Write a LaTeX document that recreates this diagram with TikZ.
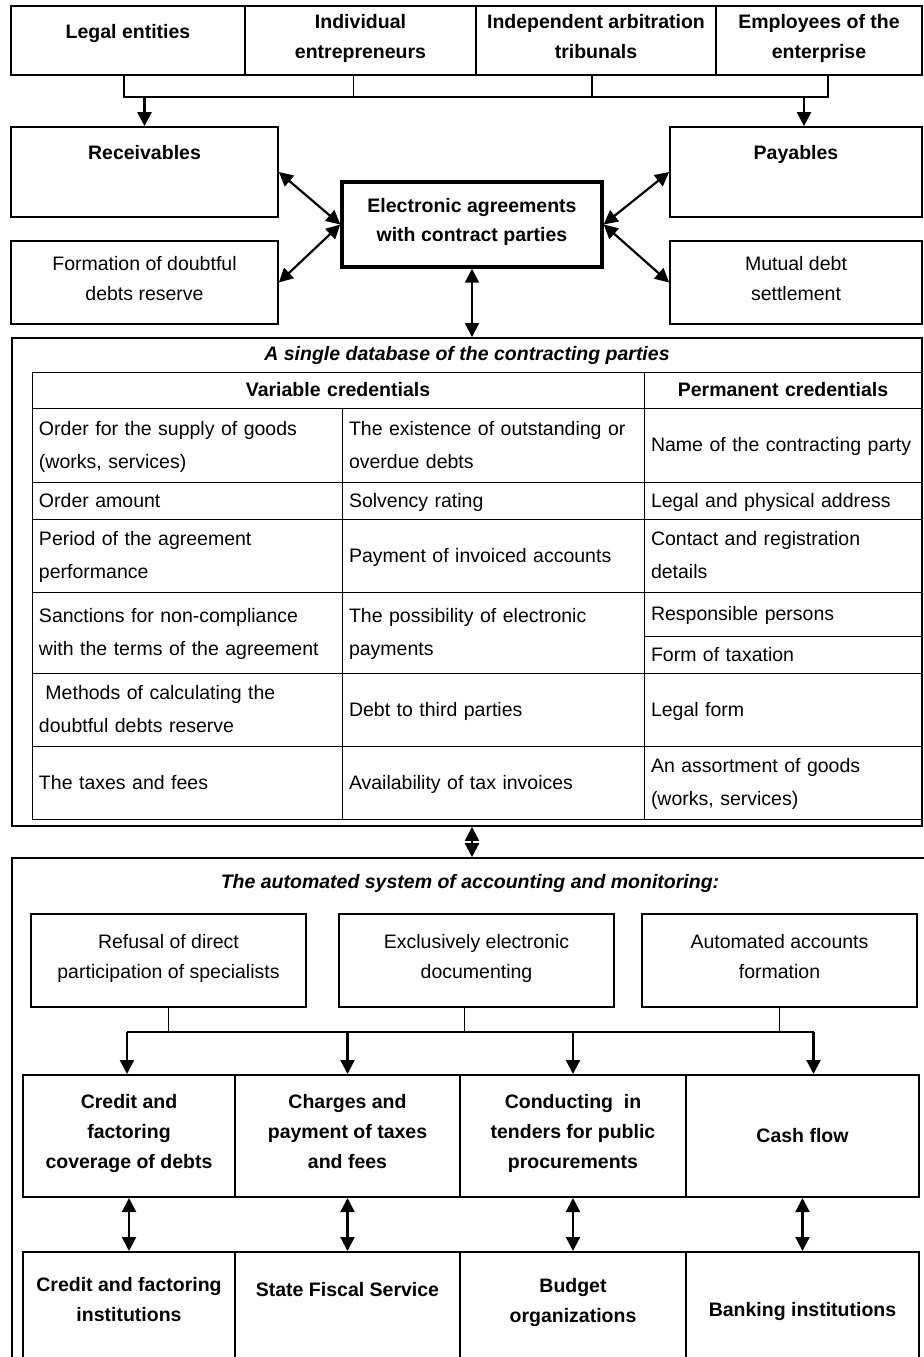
\documentclass[tikz,border=0pt]{standalone}
\usepackage{fontspec}
\setmainfont{Liberation Sans}
\usetikzlibrary{arrows.meta}

\begin{document}
\begin{tikzpicture}[
  x=0.5pt, y=-0.5pt,
  every node/.style={font=\fontsize{9.75}{15}\selectfont},
  even/.style={execute at begin node=\strut, execute at end node=\strut},
  bx/.style={draw, line width=0.85pt, align=center, inner sep=1pt, even},
  topbox/.style={bx, line width=1pt, minimum height=34.5pt, font=\fontsize{9.75}{15}\selectfont\bfseries},
  sidebox/.style={bx, minimum width=133.5pt},
  hub/.style={bx, line width=1.7pt, minimum width=130pt, minimum height=42.5pt, font=\fontsize{9.75}{14.5}\selectfont\bfseries},
  outer/.style={draw, line width=0.9pt},
  ttl/.style={font=\fontsize{9.75}{15}\selectfont\bfseries\itshape},
  bold/.style={font=\fontsize{9.75}{15}\selectfont\bfseries, align=center, even},
  cell/.style={draw, line width=0.5pt, align=left, inner xsep=3.5pt, inner ysep=0pt, even, font=\fontsize{9.75}{16.5}\selectfont},
  hd/.style={cell, align=center, minimum height=18pt, font=\fontsize{9.75}{16.5}\selectfont\bfseries},
  c1/.style={cell, text width=148pt},
  c2/.style={cell, text width=144pt},
  c3/.style={cell, text width=132pt},
  subbox/.style={bx, line width=0.8pt, minimum width=137.5pt, minimum height=46.5pt},
  flowbox/.style={bx, line width=1pt, minimum height=61pt, font=\fontsize{9.75}{15}\selectfont\bfseries},
  instbox/.style={draw, line width=1pt, minimum height=64pt},
  ln/.style={draw, line width=0.8pt},
  arr/.style={draw, line width=1.1pt, -{Triangle[length=7pt, width=7pt]}},
  darr/.style={arr, {Triangle[length=7pt, width=7pt]}-{Triangle[length=7pt, width=7pt]}},
]
\useasboundingbox (0,0) rectangle (924,1357);
\fill[white] (0,0) rectangle (924,1357);
\clip (0,0) rectangle (924,1357);

% contract parties
\node[topbox, minimum width=117pt] (le) at (128,40.5) {};
\node[bold] (let) at (128,32) {Legal entities};
\node[topbox, minimum width=115.5pt] (ie) at (360.5,40.5) {Individual\\entrepreneurs};
\node[topbox, minimum width=120pt] (ia) at (596,40.5) {Independent arbitration\\tribunals};
\node[topbox, minimum width=103pt] (ee) at (819,40.5) {Employees of the\\enterprise};

\coordinate (bar) at (0,97);
\draw[ln, line width=1pt] ([xshift=-2pt]le.south) |- ([xshift=4.5pt]ee.south |- bar) -- ([xshift=4.5pt]ee.south);
\draw[ln] ([xshift=-3.5pt]ie.south) -- ([xshift=-3.5pt]ie.south |- bar);
\draw[ln] ([xshift=-2pt]ia.south) -- ([xshift=-2pt]ia.south |- bar);

% debts around the agreements
\node[sidebox, minimum height=45pt] (rec) at (144.5,172) {};
\node[bold] (rect) at (144.5,153) {Receivables};
\node[sidebox, minimum width=126pt, minimum height=45pt] (pay) at (796,172) {};
\node[bold] (payt) at (796,153) {Payables};
\node[sidebox, minimum height=41.5pt] (form) at (144.5,282.5) {Formation of doubtful\\debts reserve};
\node[sidebox, minimum width=126pt, minimum height=41.5pt] (mut) at (796,282.5) {Mutual debt\\settlement};
\node[hub] (ea) at (472,224.5) {Electronic agreements\\with contract parties};

\draw[arr] (rec.north |- bar) -- (rec.north);
\draw[arr] ([xshift=4pt]pay.north |- bar) -- ([xshift=4pt]pay.north);
\draw[darr] (rec.east) -- (ea.west);
\draw[darr] (form.east) -- (ea.west);
\draw[darr] (pay.west) -- (ea.east);
\draw[darr] (mut.west) -- (ea.east);

% single database
\node[outer, minimum width=455pt, minimum height=244pt] (db) at (467,582) {};
\node[ttl] (dbt) at (467,355) {A single database of the contracting parties};

\node[hd, text width=299pt] (var) at (338,390) {Variable credentials};
\node[hd, text width=132pt] (perm) at (783,390) {Permanent credentials};

\node[c1, minimum height=37pt] (supply) at (187,445) {Order for the supply of goods\\(works, services)};
\node[c2, minimum height=37pt] (arrears) at (493,445) {The existence of outstanding or\\overdue debts};
\node[c3, minimum height=37pt] (pname) at (783,445) {Name of the contracting party};

\node[c1, minimum height=18.5pt] (amount) at (187,500.5) {Order amount};
\node[c2, minimum height=18.5pt] (rating) at (493,500.5) {Solvency rating};
\node[c3, minimum height=18.5pt] (address) at (783,500.5) {Legal and physical address};

\node[c1, minimum height=36.5pt] (period) at (187,555.5) {Period of the agreement\\performance};
\node[c2, minimum height=36.5pt] (payment) at (493,555.5) {Payment of invoiced accounts};
\node[c3, minimum height=36.5pt] (contact) at (783,555.5) {Contact and registration\\details};

\node[c1, minimum height=40.5pt] (sanctions) at (187,632.5) {Sanctions for non-compliance\\with the terms of the agreement};
\node[c2, minimum height=40.5pt] (epay) at (493,632.5) {The possibility of electronic\\payments};
\node[c3, minimum height=22pt] (persons) at (783,614) {Responsible persons};
\node[c3, minimum height=18.5pt] (taxform) at (783,654.5) {Form of taxation};

\node[c1, minimum height=36.5pt] (methods) at (187,709.5) {\ Methods of calculating the\\doubtful debts reserve};
\node[c2, minimum height=36.5pt] (thirddebt) at (493,709.5) {Debt to third parties};
\node[c3, minimum height=36.5pt] (legform) at (783,709.5) {Legal form};

\node[c1, minimum height=36.5pt] (taxes) at (187,782.5) {The taxes and fees};
\node[c2, minimum height=36.5pt] (invoices) at (493,782.5) {Availability of tax invoices};
\node[c3, minimum height=36.5pt] (assort) at (783,782.5) {An assortment of goods\\(works, services)};

\draw[darr] (ea.south) -- (ea.south |- db.north);

% automated system
\node[outer, line width=0.8pt, minimum width=460pt, minimum height=281pt] (asys) at (472,1139) {};
\node[ttl] (ast) at (470,883) {The automated system of accounting and monitoring:};
\draw[darr] (db.south -| ea.south) -- (ea.south |- asys.north);

\node[subbox] (sb1) at (168.5,960.5) {Refusal of direct\\participation of specialists};
\node[subbox] (sb2) at (476.5,960.5) {Exclusively electronic\\documenting};
\node[subbox] (sb3) at (779.5,960.5) {Automated accounts\\formation};

\node[flowbox, minimum width=106pt] (cr) at (129,1136) {Credit and\\factoring\\coverage of debts};
\node[flowbox, minimum width=112.5pt] (ch) at (347.5,1136) {Charges and\\payment of taxes\\and fees};
\node[flowbox, minimum width=113pt] (ct) at (573,1136) {Conducting~ in\\tenders for public\\procurements};
\node[flowbox, minimum width=116.5pt] (cf) at (802.5,1136) {Cash flow};

\coordinate (tie) at (0,1032);
\draw[ln] (sb1.south) -- (sb1.south |- tie);
\draw[ln] ([xshift=-6pt]sb2.south) -- ([xshift=-6pt]sb2.south |- tie);
\draw[ln] (sb3.south) -- (sb3.south |- tie);
\draw[ln] ([xshift=-1pt]cr.north |- tie) -- ([xshift=5.5pt]cf.north |- tie);
\foreach \n/\s in {cr/-1pt, ch/0pt, ct/0pt, cf/5.5pt}
  \draw[arr] ([xshift=\s]\n.north |- tie) -- ([xshift=\s]\n.north);

\node[instbox, minimum width=106pt] (cfi) at (129,1316) {};
\node[instbox, minimum width=112.5pt] (sfs) at (347.5,1316) {};
\node[instbox, minimum width=113pt] (bud) at (573,1316) {};
\node[instbox, minimum width=116.5pt] (bank) at (802.5,1316) {};
\node[bold] (cfit) at (129,1304) {Credit and factoring\\institutions};
\node[bold] (sfst) at (347.5,1290) {State Fiscal Service};
\node[bold] (budt) at (573,1305) {Budget\\organizations};
\node[bold] (bankt) at (802.5,1310) {Banking institutions};

\foreach \a/\b in {cr/cfi, ch/sfs, ct/bud, cf/bank}
  \draw[darr] (\a.south) -- (\b.north);
\end{tikzpicture}
\end{document}
